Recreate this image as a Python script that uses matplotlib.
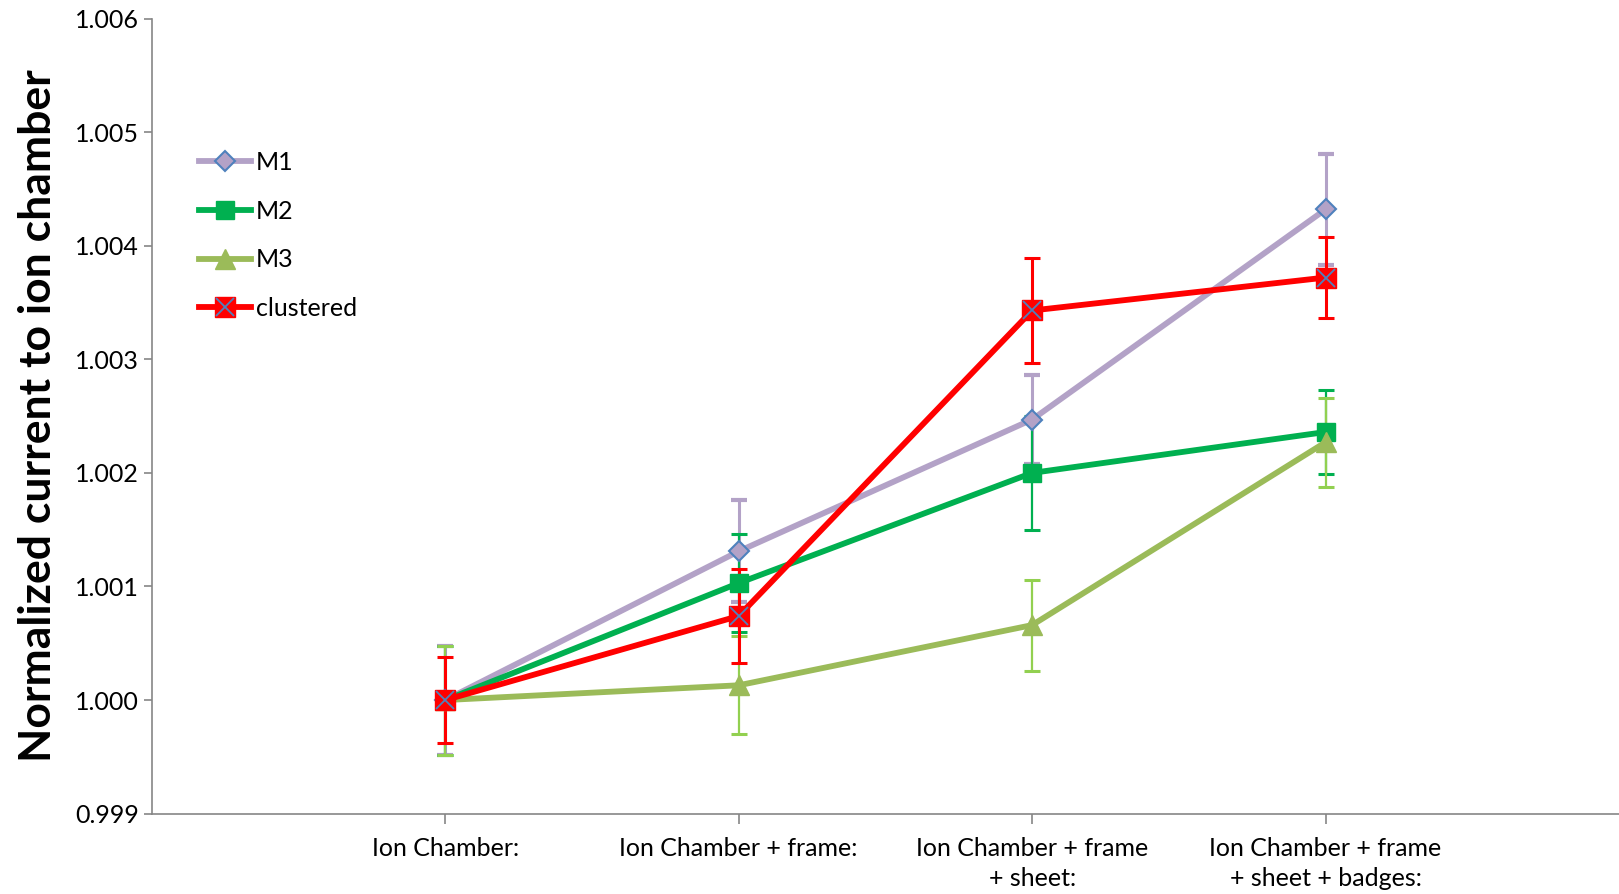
import matplotlib.pyplot as plt
from matplotlib.legend_handler import HandlerTuple
from matplotlib.ticker import FormatStrFormatter, MultipleLocator

plt.rcParams['font.family'] = ['Lato', 'DejaVu Sans']

categorias = ['Ion Chamber:', 'Ion Chamber + frame:', 'Ion Chamber + frame\n+ sheet:',
              'Ion Chamber + frame\n+ sheet + badges:']
posicoes = [1, 2, 3, 4]

m1 = [1.0000, 1.00131, 1.00247, 1.00432]
m1_err = [0.00048, 0.00045, 0.00039, 0.00049]
m2 = [1.0000, 1.00103, 1.00200, 1.00236]
m2_err = [0.00048, 0.00043, 0.00050, 0.00037]
m3 = [1.0000, 1.00013, 1.00066, 1.00227]
m3_err = [0.00048, 0.00043, 0.00040, 0.00039]
clustered = [1.0000, 1.00074, 1.00343, 1.00372]
clustered_err = [0.00038, 0.00041, 0.00046, 0.00036]

fig = plt.figure(figsize=(16.19, 8.94), dpi=100)
ax = fig.add_axes([0.0938, 0.0899, 0.9062, 0.8893])

# barras de erro primeiro, por baixo das linhas
ax.errorbar(posicoes, m1, yerr=m1_err, fmt='none', ecolor='#B3A2C7', elinewidth=2.2, capsize=6, capthick=3, zorder=2)
ax.errorbar(posicoes, m2, yerr=m2_err, fmt='none', ecolor='#00B050', elinewidth=1.6, capsize=6, capthick=2.2, zorder=2)
ax.errorbar(posicoes, m3, yerr=m3_err, fmt='none', ecolor='#92D050', elinewidth=1.6, capsize=6, capthick=2.2, zorder=2)
ax.errorbar(posicoes, clustered, yerr=clustered_err, fmt='none', ecolor='#FF0000', elinewidth=2.2, capsize=6, capthick=2.2, zorder=2)

l1, = ax.plot(posicoes, m1, color='#B3A2C7', lw=4.2, marker='D', ms=10,
              mfc='#B3A2C7', mec='#4F81BD', mew=1.5, zorder=3, label='M1')
l2, = ax.plot(posicoes, m2, color='#00B050', lw=4.2, marker='s', ms=13,
              mfc='#00B050', mec='#00B050', zorder=4, label='M2')
l3, = ax.plot(posicoes, m3, color='#9BBB59', lw=4.2, marker='^', ms=15,
              mfc='#9BBB59', mec='#9BBB59', zorder=5, label='M3')
l4, = ax.plot(posicoes, clustered, color='#FF0000', lw=4.2, marker='s', ms=14,
              mfc='#FF0000', mec='#FF0000', zorder=6)
l4x, = ax.plot(posicoes, clustered, ls='none', marker='x', ms=13, mec='#4F81BD', mew=1.3, zorder=7)

ax.set_xlim(0, 5)
ax.set_ylim(0.999, 1.006)
ax.set_xticks(posicoes)
ax.set_xticklabels(categorias, fontsize=18, linespacing=1.35)
ax.yaxis.set_major_locator(MultipleLocator(0.001))
ax.yaxis.set_major_formatter(FormatStrFormatter('%.3f'))
ax.tick_params(axis='y', labelsize=18, direction='out', length=6, color='#868686', width=1.2)
ax.tick_params(axis='x', direction='out', length=7, color='#868686', width=1.2, pad=10)
ax.set_ylabel('Normalized current to ion chamber', fontsize=32, fontweight='bold', labelpad=12)

for lado in ['top', 'right']:
    ax.spines[lado].set_visible(False)
for lado in ['left', 'bottom']:
    ax.spines[lado].set_color('#868686')
    ax.spines[lado].set_linewidth(1.2)

ax.legend([l1, l2, l3, (l4, l4x)], ['M1', 'M2', 'M3', 'clustered'],
          handler_map={tuple: HandlerTuple(ndivide=1)},
          loc='upper left', bbox_to_anchor=(0.0165, 0.862), frameon=False,
          fontsize=18, handlelength=2.1, handletextpad=0.2, labelspacing=1.03)

plt.savefig('out.png', dpi=100)
